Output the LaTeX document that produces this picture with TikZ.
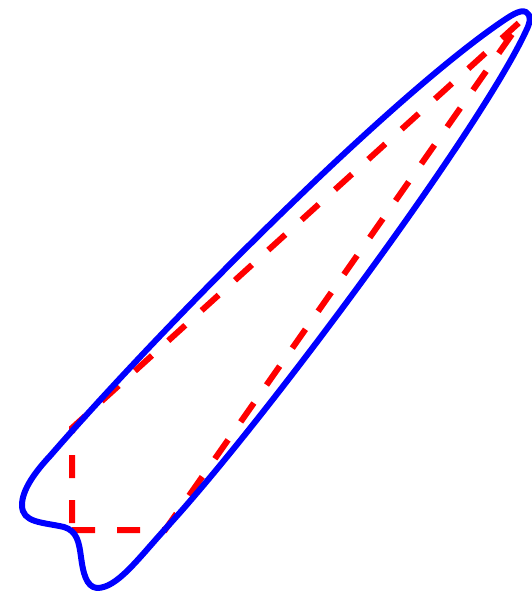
\documentclass[tikz,border=0pt]{standalone}
\begin{document}
\begin{tikzpicture}[x=1pt,y=-1pt,
  outline/.style={draw=blue,line width=6pt,line join=round},
  region/.style={draw=red,line width=6pt,dash pattern=on 23pt off 22pt,line cap=butt}]
\useasboundingbox (0,0) rectangle (532,595);
\coordinate (a) at (72,530);
\coordinate (b) at (165,530);
\coordinate (c) at (522,20);
\coordinate (d) at (72,428);
\draw[region] (a) -- (b) -- (c) -- (d) -- cycle;
\draw[outline] (526,31)
  .. controls (480,130) and (265,420) .. (167,527)
  .. controls (137,560) and (117,588) .. (97,588)
  .. controls (86,587) and (83,572) .. (81,557)
  .. controls (79,542) and (77,531) .. (64,527)
  .. controls (42,522) and (22,523) .. (22,505)
  .. controls (22,490) and (35,472) .. (50,456)
  .. controls (165,323.75) and (382,105.5) .. (497,25)
  .. controls (510,16) and (520,9) .. (526,12)
  .. controls (532,15) and (530,23) .. (526,31) -- cycle;
\end{tikzpicture}
\end{document}
